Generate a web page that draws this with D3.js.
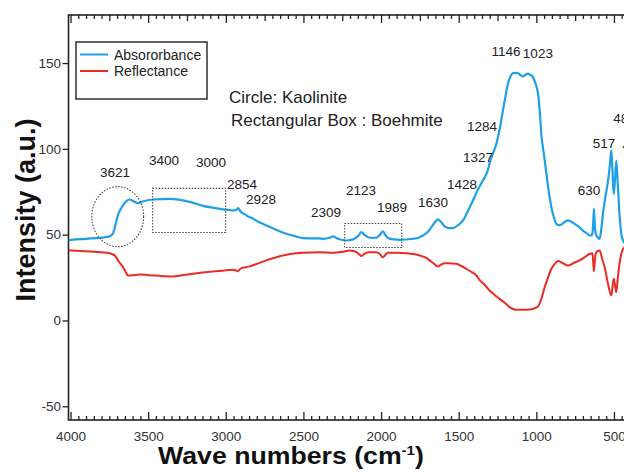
<!DOCTYPE html>
<html>
<head>
<meta charset="utf-8">
<script src="https://cdn.jsdelivr.net/npm/d3@7"></script>
<style>
  html, body { margin: 0; padding: 0; background: #fff; }
  svg { display: block; font-family: "Liberation Sans", Arial, sans-serif; }
</style>
</head>
<body>
<svg id="chart" width="624" height="472"></svg>
<script>
// FTIR spectrum: wavenumber (cm^-1) and intensity for both measurement modes
const absWave = [4013,3994,3900,3800,3748,3728,3710,3696,3670,3640,3619,3595,3565,3530,3470,3361,3297,3220,3147,3070,2996,2943,2930,2921,2910,2900,2875,2857,2835,2800,2739,2680,2610,2550,2503,2450,2395,2374,2330,2310,2290,2277,2223,2190,2170,2145,2127,2105,2073,2030,2010,1988,1970,1955,1920,1880,1794,1760,1730,1700,1676,1650,1633,1615,1590,1560,1537,1505,1472,1450,1429,1400,1386,1344,1311,1300,1279,1257,1235,1215,1198,1183,1165,1150,1130,1118,1100,1086,1070,1054,1040,1022,1005,989,978,968,950,935,920,903,885,871,855,839,815,796,775,753,725,700,675,656,645,639,633,629,625,618,605,592,582,571,555,538,527,517,510,502,495,485,476,463,452,441,420,400];
const absValue = [46.8,47,47.6,48.3,49,50.5,56,61,66,69.5,70.5,69.5,68.4,69.5,70.5,70.9,70.3,68.8,66.8,65.5,64.5,64.1,64.6,65.5,64.2,63.1,61.8,60.6,59.8,58,55.4,53,50.5,49,48,47.8,47.8,47.6,48.2,49,48.2,47.6,46.6,47,47.6,49.5,51.5,49.8,48.2,48.2,49.6,51.9,49.5,48,47.2,47,47.6,48.2,49.5,51.5,54.4,57.6,58.9,57.5,54.8,53.8,53.8,55.5,58.3,62,66,71.5,74.5,81.5,88,92,97.5,103,112,122.4,131,138,142.5,144.1,144.3,144,142.8,142.2,143.2,143.8,143.2,141.8,138,132,122,108.8,96,85.5,75,66,59.5,56.3,55.6,55.9,57.6,58.3,57.5,56.3,54.5,52.4,50.8,49.5,49.5,50.5,58,65.1,58,50.5,48.5,47.6,53,62.2,72,81.6,90,99.1,88,73.8,80,93.2,80,60.2,50,46.6,44,43];

const refWave = [4013,3994,3900,3800,3748,3730,3715,3690,3662,3645,3630,3600,3554,3500,3469,3400,3340,3280,3211,3150,3082,3020,2953,2935,2925,2912,2900,2870,2846,2800,2739,2680,2610,2550,2503,2395,2310,2250,2202,2180,2159,2140,2127,2110,2084,2030,2010,1988,1970,1955,1900,1837,1790,1751,1715,1687,1660,1633,1612,1590,1550,1515,1480,1451,1420,1386,1366,1330,1301,1270,1237,1200,1172,1150,1129,1090,1043,1015,989,970,946,925,903,880,861,830,796,760,721,690,656,639,633,629,625,618,605,592,575,560,540,517,510,502,494,485,475,463,452,441,420,400];
const refValue = [41,40.8,40.3,39.7,39.2,38.6,37.9,34.5,31.1,28.3,26.2,26.3,26.8,26.4,26.2,25.8,25.6,26.3,27.2,27.9,28.6,29,29.5,29.2,28.6,29.6,30.5,31,31.5,33,35,36.7,38.3,39.1,39.5,39.8,39.5,40,40.8,40.5,39.8,38.5,37.5,38.6,39.8,39.8,38.9,36.9,38.5,39.5,39.5,39.2,38.7,37.9,36.7,35,33.1,31.5,32.6,33.4,33.2,33,31.6,30.1,28.4,26.2,23.7,20.5,17.5,15,12.6,10,7.8,6.7,6.2,6.2,6.4,7,8.2,12,19.4,25,30.1,33,34.6,33.5,32,33.5,35,36.8,38.9,39.2,33,28.7,33,38.9,40.5,40.8,35.5,31.1,22,14.6,19,24.3,21,16.5,25,34,39,41.8,43,43.5];

const seriesNames = ["Absororbance", "Reflectance"];
const seriesColors = ["#1e9fe6", "#ec2a24"];

const xTicks = [4000, 3500, 3000, 2500, 2000, 1500, 1000, 500];
const yTicks = [-50, 0, 50, 100, 150];

// Peak assignments, placed in data units (wavenumber, intensity)
const peakText = ["3621","3400","3000","2854","2928","2309","2123","1989","1630","1428","1327","1284","1146","1023","630","517","482","466"];
const peakWave = [3714,3398,3095,2896,2773,2355,2129,1930,1666,1479,1376,1350,1196,990,661,564,505,445];
const peakLevel = [86.5,93.5,91.8,79,70.2,63.2,76,66.1,68.5,79,94.7,113.3,156.5,155.3,76,102.9,117.9,101.7];

// Mineral markers: dotted ellipse (kaolinite) and dotted boxes (boehmite)
const kaoliniteEllipse = {wave: [3863, 3529], level: [78, 43]};
const boehmiteBoxes = [
  {wave: [3471, 3001], level: [77, 51.3]},
  {wave: [2234, 1867], level: [56.5, 42.5]}
];

const svg = d3.select("#chart");
const plotLeft = 68.5, plotRight = 629.5, plotTop = 15, plotBottom = 420;

const x = d3.scaleLinear().domain([4013, 400]).range([plotLeft, plotRight]);
const y = d3.scaleLinear().domain([-58, 178]).range([plotBottom, plotTop]);

svg.append("defs").append("clipPath").attr("id", "plotClip")
  .append("rect").attr("x", plotLeft).attr("y", plotTop)
  .attr("width", plotRight - plotLeft).attr("height", plotBottom - plotTop);

// Axes
const minorX = d3.range(400, 4001, 50).filter(v => v % 500 !== 0);
const midTop = minorX.filter(v => v % 250 === 0);
const smallTop = minorX.filter(v => v % 250 !== 0);
const plainNumber = d => String(d);

function styleAxis(g) {
  g.select(".domain").remove();
  g.selectAll(".tick line").attr("stroke", "#222").attr("stroke-width", 1.3);
  g.selectAll(".tick text").attr("fill", "#333").style("font-size", "13.5px")
    .style("font-family", "'Liberation Sans', Arial, sans-serif");
}

// bottom: major ticks with labels, then minor ticks
svg.append("g").attr("transform", `translate(0,${plotBottom})`)
  .call(d3.axisBottom(x).tickValues(xTicks).tickSize(-8).tickPadding(11).tickFormat(plainNumber))
  .call(styleAxis);
svg.append("g").attr("transform", `translate(0,${plotBottom})`)
  .call(d3.axisBottom(x).tickValues(minorX).tickSize(-4).tickFormat(""))
  .call(styleAxis);

// top: inward ticks, no labels
svg.append("g").attr("transform", `translate(0,${plotTop})`)
  .call(d3.axisTop(x).tickValues(xTicks).tickSize(-8).tickFormat(""))
  .call(styleAxis);
svg.append("g").attr("transform", `translate(0,${plotTop})`)
  .call(d3.axisTop(x).tickValues(midTop).tickSize(-6).tickFormat(""))
  .call(styleAxis);
svg.append("g").attr("transform", `translate(0,${plotTop})`)
  .call(d3.axisTop(x).tickValues(smallTop).tickSize(-4).tickFormat(""))
  .call(styleAxis);

// left
svg.append("g").attr("transform", `translate(${plotLeft},0)`)
  .call(d3.axisLeft(y).tickValues(yTicks).tickSize(6).tickPadding(1.5).tickFormat(plainNumber))
  .call(styleAxis);

// frame
svg.append("rect").attr("x", plotLeft).attr("y", plotTop)
  .attr("width", plotRight - plotLeft).attr("height", plotBottom - plotTop)
  .attr("fill", "none").attr("stroke", "#222").attr("stroke-width", 1.6);

// spectra
const line = d3.line().x(d => x(d[0])).y(d => y(d[1])).curve(d3.curveMonotoneX);
const plot = svg.append("g").attr("clip-path", "url(#plotClip)");
const series = [
  d3.zip(refWave, refValue),
  d3.zip(absWave, absValue)
];
plot.append("path").datum(series[0]).attr("d", line)
  .attr("fill", "none").attr("stroke", seriesColors[1]).attr("stroke-width", 2);
plot.append("path").datum(series[1]).attr("d", line)
  .attr("fill", "none").attr("stroke", seriesColors[0]).attr("stroke-width", 2.2);

// mineral markers
const e = kaoliniteEllipse;
svg.append("ellipse")
  .attr("cx", (x(e.wave[0]) + x(e.wave[1])) / 2)
  .attr("cy", (y(e.level[0]) + y(e.level[1])) / 2)
  .attr("rx", Math.abs(x(e.wave[1]) - x(e.wave[0])) / 2)
  .attr("ry", Math.abs(y(e.level[1]) - y(e.level[0])) / 2)
  .attr("fill", "none").attr("stroke", "#444").attr("stroke-width", 1.1)
  .attr("stroke-dasharray", "1.5,1.5");
svg.selectAll("rect.box").data(boehmiteBoxes).join("rect").attr("class", "box")
  .attr("x", d => x(d.wave[0])).attr("y", d => y(d.level[0]))
  .attr("width", d => x(d.wave[1]) - x(d.wave[0]))
  .attr("height", d => y(d.level[1]) - y(d.level[0]))
  .attr("fill", "none").attr("stroke", "#444").attr("stroke-width", 1.1)
  .attr("stroke-dasharray", "1.5,1.5");

// peak labels
svg.selectAll("text.peak").data(peakText).join("text").attr("class", "peak")
  .attr("x", (d, i) => x(peakWave[i])).attr("y", (d, i) => y(peakLevel[i]))
  .attr("text-anchor", (d, i) => i >= 16 ? "start" : "middle")
  .attr("dominant-baseline", "central")
  .attr("fill", "#222").style("font-size", "13.5px")
  .text(d => d);

// mineral key
svg.append("text").attr("x", x(2979)).attr("y", y(130)).attr("dominant-baseline", "central")
  .attr("fill", "#222").style("font-size", "17px").text("Circle: Kaolinite");
svg.append("text").attr("x", x(2966)).attr("y", y(116.3)).attr("dominant-baseline", "central")
  .attr("fill", "#222").style("font-size", "17px").text("Rectangular Box : Boehmite");

// legend
const lg = svg.append("g");
lg.append("rect").attr("x", 76).attr("y", 42).attr("width", 131).attr("height", 57)
  .attr("fill", "#fff").attr("stroke", "#222").attr("stroke-width", 1.4);
seriesNames.forEach((name, i) => {
  const ly = 54.5 + i * 16.5;
  lg.append("line").attr("x1", 80).attr("x2", 108).attr("y1", ly).attr("y2", ly)
    .attr("stroke", seriesColors[i]).attr("stroke-width", 2);
  lg.append("text").attr("x", 114).attr("y", ly).attr("dominant-baseline", "central")
    .attr("fill", "#222").style("font-size", "14px").text(name);
});

// axis titles (x title is slightly widened)
const xt = svg.append("text").attr("transform", "translate(291,464) scale(1.16,1)")
  .attr("text-anchor", "middle")
  .attr("fill", "#111").style("font-size", "23px").style("font-weight", "bold");
xt.append("tspan").text("Wave numbers (cm");
xt.append("tspan").attr("dy", -9).style("font-size", "13px").text("-1");
xt.append("tspan").attr("dy", 9).text(")");

svg.append("text").attr("transform", "translate(35,210) rotate(-90)")
  .attr("text-anchor", "middle").attr("fill", "#111")
  .style("font-size", "27px").style("font-weight", "bold").text("Intensity (a.u.)");
</script>
</body>
</html>
